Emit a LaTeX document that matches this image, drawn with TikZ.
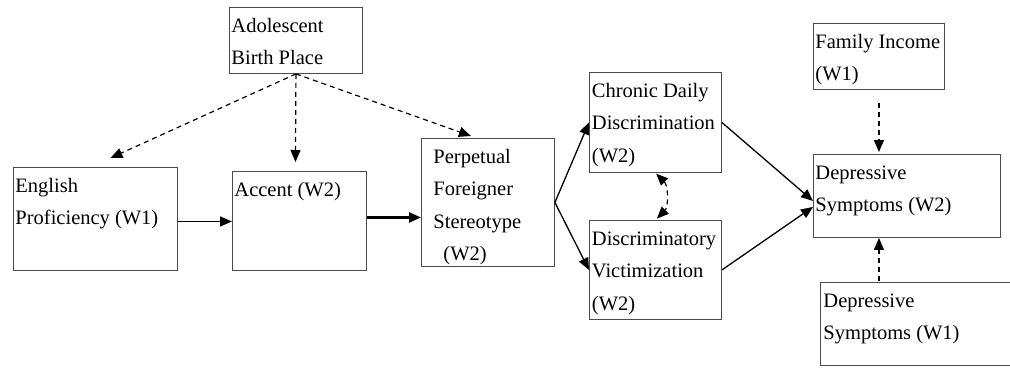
\documentclass[tikz,border=0pt]{standalone}
\usepackage{fontspec}
\setmainfont{Liberation Serif}
\usepackage{tikz}
\usetikzlibrary{arrows.meta, calc, positioning}

\newcommand{\boxtext}[4]{\parbox[c][#2][t]{#1}{\vspace*{2.2pt}\begin{tabular}[t]{@{\hspace{#3}}l@{}}#4\end{tabular}}}

\begin{document}
\begin{tikzpicture}[x=1pt, y=-1pt, >={Triangle[length=12pt,width=10pt]},
  varbox/.style={draw=black!70, line width=0.9pt, inner sep=0pt, anchor=north west, font=\fontsize{20.5}{32.5}\selectfont},
  effect/.style={->, line width=1.3pt},
  cov/.style={->, line width=1.2pt, dash pattern=on 5pt off 4pt}]
\clip (0,0) rectangle (1010,368);

\node[varbox] (adol) at (229,7) {\boxtext{133pt}{66pt}{2pt}{Adolescent\\Birth Place}};
\node[varbox] (eng) at (13,167) {\boxtext{164pt}{103pt}{2pt}{English\\Proficiency (W1)}};
\node[varbox] (acc) at (232,171) {\boxtext{134pt}{99pt}{2pt}{Accent (W2)}};
\node[varbox] (perp) at (421,138) {\boxtext{133pt}{128pt}{12pt}{Perpetual\\Foreigner\\Stereotype\\\hspace*{10pt}(W2)}};
\node[varbox] (chron) at (589,72) {\boxtext{132pt}{100pt}{2.5pt}{Chronic Daily\\Discrimination\\(W2)}};
\node[varbox] (discr) at (589,220) {\boxtext{132pt}{99pt}{2.5pt}{Discriminatory\\Victimization\\(W2)}};
\node[varbox] (fam) at (813,23) {\boxtext{131pt}{66pt}{2pt}{Family Income\\(W1)}};
\node[varbox] (dep2) at (813,154) {\boxtext{187pt}{83pt}{2pt}{Depressive\\Symptoms (W2)}};
\node[varbox] (dep1) at (820,282) {\boxtext{200pt}{83pt}{3pt}{Depressive\\Symptoms (W1)}};

% birth place
\draw[cov] (adol.south) -- ([shift={(15,-9)}]eng.north);
\draw[cov] (adol.south) -- ([shift={(-4,-9)}]acc.north);
\draw[cov] (adol.south) -- ([shift={(-17,-2)}]perp.north);

% main paths
\draw[effect] ([yshift=-2.5pt]eng.east) -- ([yshift=-0.5pt]acc.west);
\draw[effect, line width=2.2pt] ([yshift=3.5pt]acc.east) -- ([yshift=-15pt]perp.west);
\draw[effect] (perp.east) -- (chron.west); \draw[effect] (perp.east) -- (discr.west);
\draw[effect] (chron.east) -- ([yshift=-5pt]dep2.west);
\draw[effect] (discr.east) -- ([yshift=-11pt]dep2.west);
\draw[cov, <->, shorten <=1pt, shorten >=2pt] (chron.south) to[bend left=45] (discr.north);

% controls
\draw[cov, shorten <=13pt, shorten >=2pt] (fam.south) -- (fam.south |- dep2.north);
\draw[cov, shorten <=1pt] (fam.south |- dep1.north) -- (fam.south |- dep2.south);

\end{tikzpicture}
\end{document}
